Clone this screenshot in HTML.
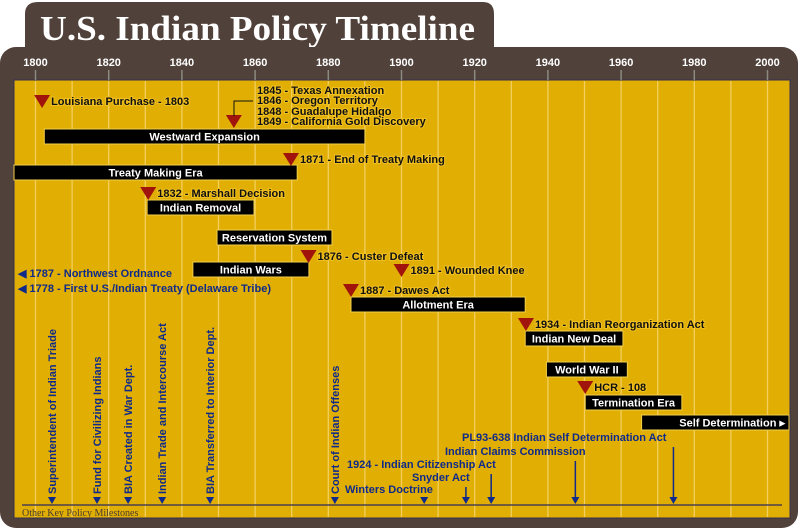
<!DOCTYPE html>
<html><head><meta charset="utf-8"><style>
body{margin:0;background:#fff}
svg{display:block;font-family:"Liberation Sans",sans-serif}
.bt{fill:#fff;font-weight:bold;font-size:11px}
.ev{fill:#111;font-weight:bold;font-size:11px;paint-order:stroke;stroke:#f0c020;stroke-width:2px}
.bl{fill:#0f2a8a;font-weight:bold;font-size:11px}
</style></head><body>
<svg id="c" width="800" height="529" viewBox="0 0 800 529">
<path d="M25,48 V14 Q25,2 38,2 H483 Q494,2 494,14 V48 Z" fill="#50413a"/>
<text x="40" y="40" font-family="Liberation Serif,serif" font-weight="bold" font-size="35" fill="#fff" textLength="435" lengthAdjust="spacingAndGlyphs">U.S. Indian Policy Timeline</text>
<rect x="0" y="47" width="798" height="481" rx="16" fill="#50413a"/>
<rect x="14" y="80" width="776" height="438" fill="#e1ae04" stroke="#3a3050" stroke-width="1"/>
<g id="grid"></g><g id="ticks"></g><g id="marks"></g>
<line x1="22" y1="505" x2="782" y2="505" stroke="#4a4050" stroke-width="1.5"/>
<text x="22" y="516" font-family="Liberation Serif,serif" font-size="10" fill="#4a3c30">Other Key Policy Milestones</text>
<text class="bl" x="18" y="277">◀ 1787 - Northwest Ordnance</text>
<text class="bl" x="18" y="292">◀ 1778 - First U.S./Indian Treaty (Delaware Tribe)</text>
<text class="ev" x="257" y="94">1845 - Texas Annexation</text>
<text class="ev" x="257" y="104">1846 - Oregon Territory</text>
<text class="ev" x="257" y="115">1848 - Guadalupe Hidalgo</text>
<text class="ev" x="257" y="125">1849 - California Gold Discovery</text>
<polyline points="253,101 234,101 234,116" fill="none" stroke="#111" stroke-width="1"/>
</svg>
<script>
const x0=35.5, k=3.66;
function X(y){return x0+(y-1800)*k;}
const NS='http://www.w3.org/2000/svg';
function mk(tag,attrs,parent,txt){const e=document.createElementNS(NS,tag);for(const a in attrs)e.setAttribute(a,attrs[a]);if(txt!==undefined)e.textContent=txt;parent.appendChild(e);return e;}
const tickYears=[1800,1820,1840,1860,1880,1900,1920,1940,1960,1980,2000];
const gridYears=[1790,1800,1810,1820,1830,1840,1850,1860,1870,1880,1890,1900,1910,1920,1930,1940,1950,1960,1970,1980,1990,2000];
const eraNames=["Westward Expansion","Treaty Making Era","Indian Removal","Reservation System","Indian Wars","Allotment Era","Indian New Deal","World War II","Termination Era","Self Determination ▸"];
const eraStart=[1802.4,1778,1830.5,1849.6,1843,1886.2,1933.8,1939.6,1950.2,1965.6];
const eraEnd=[1890,1871.5,1859.7,1881,1874.7,1933.8,1960.5,1961.7,1976.6,2006];
const eraRow=[129,165,200,230,262,297,331,362,395,415];
const evLabels=["Louisiana Purchase - 1803","","1871 - End of Treaty Making","1832 - Marshall Decision","1876 - Custer Defeat","1891 - Wounded Knee","1887 - Dawes Act","1934 - Indian Reorganization Act","HCR - 108"];
const evYear=[1801.8,1854.2,1869.8,1830.8,1874.6,1900,1886.2,1934,1950.2];
const evRow=[95,115,153,187,250,264,284,318,381];
const vNames=["Superintendent of Indian Triade","Fund for Civilizing Indians","BIA Created in War Dept.","Indian Trade and Intercourse Act","BIA Transferred to Interior Dept.","Court of Indian Offenses"];
const vYear=[1804.5,1816.8,1825.3,1834.6,1847.7,1881.8];
const bNames=["Winters Doctrine","Snyder Act","1924 - Indian Citizenship Act","Indian Claims Commission","PL93-638 Indian Self Determination Act"];
const bYear=[1906.2,1917.6,1924.5,1947.5,1974.3];
const bTextX=[345,412,347,445,462];
const bTextY=[493,481,468,455,441];

const g=document.getElementById('grid'),t=document.getElementById('ticks'),m=document.getElementById('marks');
gridYears.forEach(y=>{const xx=X(y);if(xx<16||xx>788)return;
 const l=mk('line',{x1:xx,y1:81,x2:xx,y2:517,stroke:'#f2cf5e','stroke-width':1.3},g);
 
 });
tickYears.forEach(y=>{const xx=X(y);
 const l=mk('line',{x1:xx,y1:70,x2:xx,y2:80,stroke:'#8a8a80','stroke-width':1.5},t);
 
 
 const tx=mk('text',{x:xx,y:66,'text-anchor':'middle',fill:'#fff','font-weight':'bold','font-size':11},t,String(y));
 
 });
eraNames.forEach((n,i)=>{const a=Math.max(X(eraStart[i]),14),b=Math.min(X(eraEnd[i]),789);
 const r=mk('rect',{x:a,y:eraRow[i],width:b-a,height:15,fill:'#000',stroke:'#f2cf4a','stroke-width':1},m);
 
 
 const last=i===eraNames.length-1;
 const tx=mk('text',{class:'bt',x:last?b-4:(a+b)/2,y:eraRow[i]+11.5,'text-anchor':last?'end':'middle'},m,n);
 
 });
evYear.forEach((y,i)=>{const xx=X(y),yy=evRow[i];
 const p=mk('polygon',{points:`${xx-8},${yy} ${xx+8},${yy} ${xx},${yy+13}`,fill:'#a0140c'},m);
 
 
 if(evLabels[i]){const tx=mk('text',{class:'ev',x:xx+9,y:yy+10},m,evLabels[i]);
 
 }});
vYear.forEach((y,i)=>{const xx=X(y);
 const tx=mk('text',{class:'bl',transform:`translate(${xx+4},494) rotate(-90)`},m,vNames[i]);
 
 
 const p=mk('polygon',{points:`${xx-4},497 ${xx+4},497 ${xx},504`,fill:'#0f2a8a'},m);
 
 });
bYear.forEach((y,i)=>{const xx=X(y);
 const tx=mk('text',{class:'bl',x:bTextX[i],y:bTextY[i]},m,bNames[i]);
 
 
 if(i>0){const l=mk('line',{x1:xx,y1:bTextY[i]+6,x2:xx,y2:500,stroke:'#0f2a8a','stroke-width':1.5},m);
 
 }
 const p=mk('polygon',{points:`${xx-4},497 ${xx+4},497 ${xx},504`,fill:'#0f2a8a'},m);
 
 });
</script>
</body></html>
